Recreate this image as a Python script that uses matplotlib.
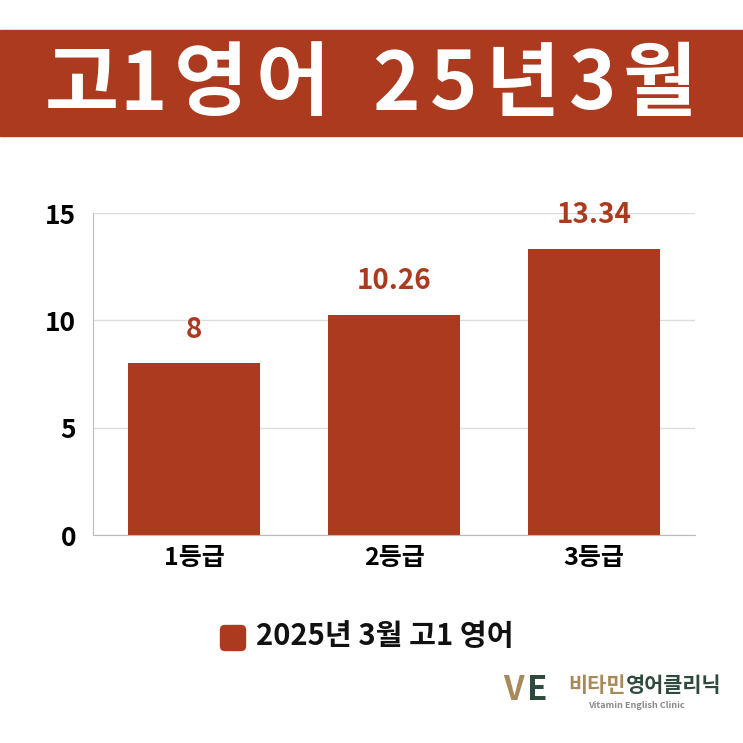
import matplotlib.pyplot as plt
from matplotlib.patches import Rectangle, FancyBboxPatch

plt.rcParams['font.family'] = ['Noto Sans CJK KR', 'DejaVu Sans']

# Data
categories = ['1등급', '2등급', '3등급']
values = [8, 10.26, 13.34]
value_labels = ['8', '10.26', '13.34']
yticks = [0, 5, 10, 15]
series_name = '2025년 3월 고1 영어'
title = '고1영어 25년3월'

red = '#AB3A1E'

fig = plt.figure(figsize=(7.43, 7.43), dpi=100)
fig.patch.set_facecolor('white')

# title banner, letters spread wide like the original
fig.patches.append(Rectangle((0, 1 - 136 / 743), 1, 106 / 743, transform=fig.transFigure,
                             color=red, zorder=0))
char_x = [82, 143, 211, 293, None, 396, 454, 523, 593, 660]
for ch, cx in zip(title, char_x):
    if cx is None:
        continue
    fig.text(cx / 743, 1 - 86 / 743, ch, ha='center', va='center', color='white',
             fontsize=58, fontweight='bold')

# main axes: left 93px, right 695px, bottom 535px, top 213px
ax = fig.add_axes([93 / 743, 1 - 535 / 743, (695 - 93) / 743, (535 - 213) / 743])
x = range(len(categories))
ax.bar(x, values, width=0.66, color=red, zorder=2, label=series_name)
for xi, v, lab in zip(x, values, value_labels):
    ax.annotate(lab, (xi, v), xytext=(0, 24), textcoords='offset points',
                ha='center', va='center', color=red, fontsize=20, fontweight='semibold')

ax.set_xlim(-0.505, 2.505)
ax.set_ylim(0, 15)
ax.set_yticks(yticks)
ax.set_yticklabels([str(t) for t in yticks], fontsize=19, fontweight='bold')
ax.set_xticks(list(x))
ax.set_xticklabels(categories, fontsize=18, fontweight='bold')
ax.tick_params(axis='y', length=0, pad=12)
ax.tick_params(axis='x', length=0, pad=8)
ax.grid(axis='y', color='#dddddd', linewidth=1, zorder=0)
for s in ['top', 'right']:
    ax.spines[s].set_visible(False)
ax.spines['left'].set_color('#bbbbbb')
ax.spines['bottom'].set_color('#bbbbbb')

# legend
fig.patches.append(FancyBboxPatch((222 / 743, 1 - 649 / 743), 22 / 743, 22 / 743,
                                  boxstyle='round,pad=0.002,rounding_size=0.006',
                                  transform=fig.transFigure, color=red))
fig.text(256 / 743, 1 - 636 / 743, series_name, ha='left', va='center',
         fontsize=21, fontweight='bold', color='#111111')

# logo at bottom right
gold = '#A8895A'
green = '#2E4A3C'
fig.text(503 / 743, 1 - 690 / 743, 'V', ha='left', va='center', color=gold,
         fontsize=24, fontweight='bold', style='italic')
fig.text(527 / 743, 1 - 690 / 743, 'E', ha='left', va='center', color=green,
         fontsize=24, fontweight='bold', style='italic')
fig.text(568 / 743, 1 - 685 / 743, '비타민', ha='left', va='center', color=gold,
         fontsize=15, fontweight='bold')
fig.text(626 / 743, 1 - 685 / 743, '영어클리닉', ha='left', va='center', color=green,
         fontsize=15, fontweight='bold')
fig.text(588 / 743, 1 - 706 / 743, 'Vitamin English Clinic', ha='left', va='center',
         color='#888888', fontsize=6.5, fontweight='bold')

fig.savefig('out.png', dpi=100)
